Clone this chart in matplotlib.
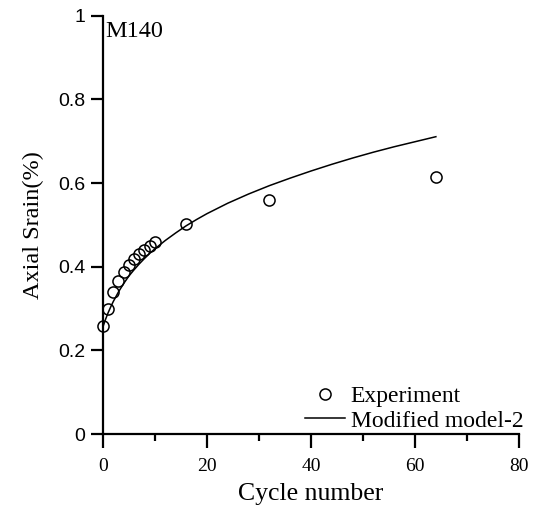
import matplotlib
matplotlib.use('Agg')
import matplotlib.pyplot as plt

# experiment points
cycles = [0, 1, 2, 3, 4, 5, 6, 7, 8, 9, 10, 16, 32, 64]
strain_exp = [0.258, 0.298, 0.340, 0.366, 0.388, 0.404, 0.418, 0.430, 0.440, 0.450, 0.460, 0.502, 0.560, 0.614]

# modified model-2 curve
cycles_model = [0, 0.5, 1, 1.5, 2, 3, 4, 5, 6, 7, 8, 9, 10, 12, 14, 16, 18, 20,
                24, 28, 32, 36, 40, 44, 48, 52, 56, 60, 64]
strain_model = [0.256, 0.274, 0.290, 0.304, 0.317, 0.340, 0.360, 0.378, 0.393, 0.407,
                0.420, 0.432, 0.443, 0.463, 0.481, 0.498, 0.513, 0.527,
                0.552, 0.574, 0.594, 0.612, 0.629, 0.645, 0.660, 0.674, 0.687, 0.699, 0.711]

xticks = [0, 20, 40, 60, 80]
xminor = [10, 30, 50, 70]
yticks = [0, 0.2, 0.4, 0.6, 0.8, 1.0]
ytick_labels = ['0', '0.2', '0.4', '0.6', '0.8', '1']

serif = 'Liberation Serif'
sans = 'Liberation Sans'

fig = plt.figure(figsize=(5.33, 5.09), dpi=100)
ax = fig.add_axes([0.193, 0.147, 0.781, 0.822])

ax.plot(cycles, strain_exp, 'o', mfc='none', mec='black', ms=8, mew=1.1,
        label='Experiment', clip_on=False, zorder=3)
ax.plot(cycles_model, strain_model, '-', color='black', lw=1.1, label='Modified model-2')

ax.set_xlim(0, 80)
ax.set_ylim(0, 1)

for s in ['top', 'right']:
    ax.spines[s].set_visible(False)
for s in ['left', 'bottom']:
    ax.spines[s].set_linewidth(1.6)

ax.set_xticks(xticks)
ax.set_xticks(xminor, minor=True)
ax.set_yticks(yticks)
ax.set_yticklabels(ytick_labels, fontfamily=sans, fontsize=14)
ax.set_xticklabels([str(t) for t in xticks], fontfamily=serif, fontsize=14)
ax.tick_params(axis='x', which='major', direction='out', length=10, width=1.6, pad=7)
ax.tick_params(axis='x', which='minor', direction='out', length=5, width=1.6)
ax.tick_params(axis='y', which='major', direction='out', length=8.5, width=1.6, pad=4)

ax.set_xlabel('Cycle number', fontfamily=serif, fontsize=18.5, labelpad=6)
ax.set_ylabel('Axial Srain(%)', fontfamily=serif, fontsize=17.5, labelpad=10)

ax.text(0.4, 0.95, 'M140', fontfamily=serif, fontsize=17.5, va='baseline', ha='left')

ax.legend(loc='lower right', bbox_to_anchor=(1.01, 0.006), frameon=False,
          prop={'family': serif, 'size': 17}, handlelength=1.7, handletextpad=0.25,
          labelspacing=0.12, borderpad=0, borderaxespad=0)

fig.savefig('out.png', dpi=100)
